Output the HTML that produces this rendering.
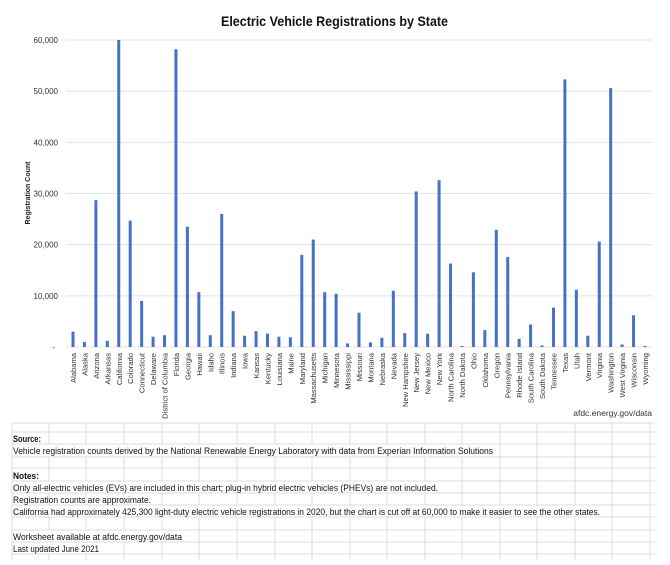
<!DOCTYPE html><html><head><meta charset="utf-8"><style>
body{margin:0;background:#fff;}
svg{display:block;font-family:"Liberation Sans",Calibri,sans-serif;}
</style></head><body>
<svg width="670" height="565" viewBox="0 0 670 565" xmlns="http://www.w3.org/2000/svg">
<text x="221" y="26" textLength="227" lengthAdjust="spacingAndGlyphs" font-size="14" font-weight="bold" fill="#111">Electric Vehicle Registrations by State</text>
<g id="grid" stroke="#e3e3e3" stroke-width="1"></g>
<g id="yl" font-size="8" fill="#333" text-anchor="end"></g>
<text transform="translate(30,193) rotate(-90)" text-anchor="middle" font-size="7" font-weight="bold" fill="#222">Registration Count</text>
<g id="bars" fill="#4472c4"></g>
<g id="xl" font-size="7.6" fill="#333" text-anchor="end"></g>
<text x="652" y="416" text-anchor="end" font-size="8.5" fill="#333">afdc.energy.gov/data</text>
<g id="tbl" stroke="#dcdcdc" stroke-width="1"></g>
<g font-size="9" fill="#111" lengthAdjust="spacingAndGlyphs">
<text x="13" y="442" font-weight="bold" textLength="28" lengthAdjust="spacingAndGlyphs">Source:</text>
<text x="13" y="454" textLength="480" lengthAdjust="spacingAndGlyphs">Vehicle registration counts derived by the National Renewable Energy Laboratory with data from Experian Information Solutions</text>
<text x="13" y="479" font-weight="bold" textLength="26" lengthAdjust="spacingAndGlyphs">Notes:</text>
<text x="13" y="491" textLength="425" lengthAdjust="spacingAndGlyphs">Only all-electric vehicles (EVs)  are included in this chart; plug-in hybrid electric vehicles (PHEVs) are not included.</text>
<text x="13" y="503" textLength="138" lengthAdjust="spacingAndGlyphs">Registration counts are approximate.</text>
<text x="13" y="515" textLength="587" lengthAdjust="spacingAndGlyphs">California had approximately 425,300 light-duty electric vehicle registrations in 2020, but the chart is cut off at 60,000 to make it easier to see the other states.</text>
<text x="13" y="540" textLength="169" lengthAdjust="spacingAndGlyphs">Worksheet available at afdc.energy.gov/data</text>
<text x="13" y="552" textLength="86" lengthAdjust="spacingAndGlyphs">Last updated June 2021</text>
</g>
</svg>
<script>
const ns="http://www.w3.org/2000/svg";
function el(p,t,a,txt){const e=document.createElementNS(ns,t);for(const k in a)e.setAttribute(k,a[k]);if(txt!==undefined)e.textContent=txt;document.getElementById(p).appendChild(e);}
const y0=347,sc=307/60000;
for(let i=0;i<=6;i++){const y=y0-i*10000*sc;el("grid","line",{x1:66,x2:652,y1:y,y2:y});el("yl","text",{x:i?58:55,y:y+3},i?(i*10)+",000":"-");}
const d=[["Alabama",3000],["Alaska",1000],["Arizona",28700],["Arkansas",1200],["California",60000],["Colorado",24700],["Connecticut",9000],["Delaware",2000],["District of Columbia",2300],["Florida",58200],["Georgia",23500],["Hawaii",10700],["Idaho",2300],["Illinois",26000],["Indiana",7000],["Iowa",2200],["Kansas",3100],["Kentucky",2600],["Louisiana",2000],["Maine",1900],["Maryland",18000],["Massachusetts",21000],["Michigan",10700],["Minnesota",10400],["Mississippi",700],["Missouri",6700],["Montana",900],["Nebraska",1800],["Nevada",11000],["New Hampshire",2700],["New Jersey",30400],["New Mexico",2600],["New York",32600],["North Carolina",16300],["North Dakota",200],["Ohio",14600],["Oklahoma",3300],["Oregon",22900],["Pennsylvania",17600],["Rhode Island",1600],["South Carolina",4400],["South Dakota",300],["Tennessee",7700],["Texas",52300],["Utah",11200],["Vermont",2200],["Virginia",20600],["Washington",50600],["West Virginia",500],["Wisconsin",6200],["Wyoming",200]];
d.forEach((s,i)=>{const x=73+i*11.44;const h=s[1]*sc;el("bars","rect",{x:x-1.5,y:y0-h,width:3,height:h});el("xl","text",{transform:`translate(${x+3},353) rotate(-90)`},s[0]);});
const rows=[423,432,444,457,468,481,493,505,517,530,542,554];
rows.forEach(y=>el("tbl","line",{x1:12,x2:655,y1:y,y2:y}));
const cols=[12,49,86,124,162,199,237,275,312,350,387,425,462,500,537,575,612,650];
cols.forEach(x=>el("tbl","line",{x1:x,x2:x,y1:423,y2:560}));
[[444,457,485],[481,493,430],[505,517,590],[530,542,175],[542,554,92]].forEach(r=>el("tbl","rect",{x:12.5,y:r[0]+0.5,width:r[2],height:r[1]-r[0]-1,fill:"#fff",stroke:"none"}));
</script>
</body></html>
